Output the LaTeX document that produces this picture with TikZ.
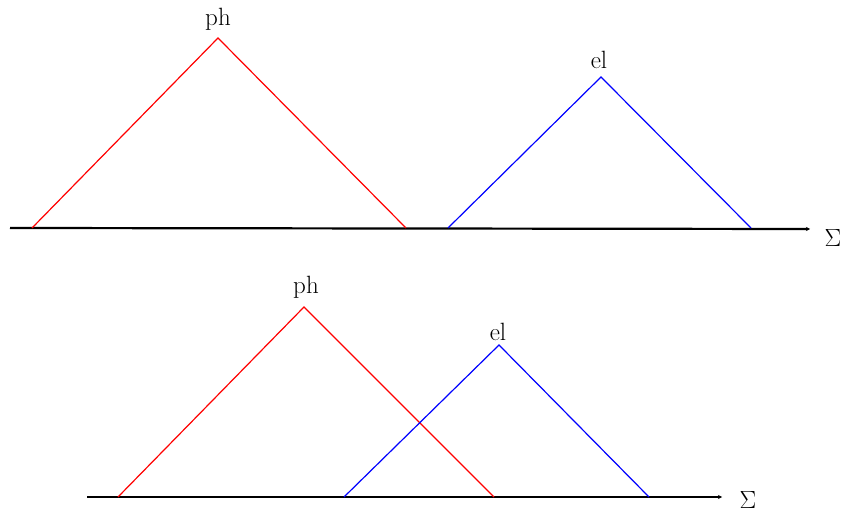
\documentclass[tikz,border=0pt]{standalone}
\usetikzlibrary{arrows.meta}
\begin{document}
\begin{tikzpicture}[x=1pt,y=-1pt,
  axis/.style={line width=2.2pt,-{Stealth[length=4pt,width=4pt]}},
  phline/.style={red,line width=1.2pt},
  elline/.style={blue,line width=1.2pt},
  lbl/.style={font=\fontsize{25}{30}\selectfont,inner sep=0pt},
  sig/.style={font=\fontsize{29}{34}\selectfont,inner sep=0pt}]
\useasboundingbox (0,0) rectangle (849,518);
% top
\coordinate (a1s) at (10,228);
\coordinate (a1e) at (810,229);
\draw[axis] (a1s) -- (a1e);
\node[sig] (s1) at (833,238) {$\Sigma$};
\coordinate (p1l) at (32,228);
\coordinate (p1t) at (218,38);
\coordinate (p1r) at (406,228);
\draw[phline] (p1l) -- (p1t) -- (p1r);
\node[lbl,anchor=south] (ph1) at (218,31) {ph};
\coordinate (e1l) at (448,228);
\coordinate (e1t) at (601,77);
\coordinate (e1r) at (751,228);
\draw[elline] (e1l) -- (e1t) -- (e1r);
\node[lbl,anchor=south] (el1) at (599,69) {el};
% bottom
\coordinate (a2s) at (87,497);
\coordinate (a2e) at (722,497);
\draw[axis] (a2s) -- (a2e);
\node[sig] (s2) at (748,500) {$\Sigma$};
\coordinate (p2l) at (118,497);
\coordinate (p2t) at (304,307);
\coordinate (p2r) at (494,497);
\draw[phline] (p2l) -- (p2t) -- (p2r);
\node[lbl,anchor=south] (ph2) at (306,299) {ph};
\coordinate (e2l) at (344,497);
\coordinate (e2t) at (499,345);
\coordinate (e2r) at (649,497);
\draw[elline] (e2l) -- (e2t) -- (e2r);
\node[lbl,anchor=south] (el2) at (498,341) {el};
\end{tikzpicture}
\end{document}
